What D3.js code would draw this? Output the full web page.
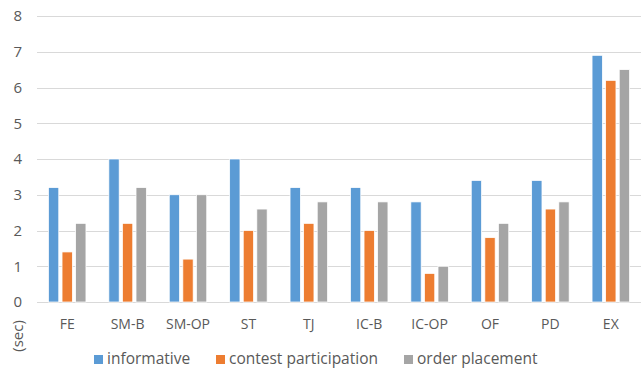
<!DOCTYPE html>
<html>
<head>
<meta charset="utf-8">
<script src="https://cdn.jsdelivr.net/npm/d3@7"></script>
<style>
  html, body { margin: 0; padding: 0; background: #fff; }
  svg { display: block; font-family: "Open Sans", "Noto Sans", sans-serif; }
</style>
</head>
<body>
<svg id="chart" width="641" height="372"></svg>
<script>
// Response time per page type, three task types
const categories = ["FE", "SM-B", "SM-OP", "ST", "TJ", "IC-B", "IC-OP", "OF", "PD", "EX"];
const seriesNames = ["informative", "contest participation", "order placement"];
const informative = [3.2, 4.0, 3.0, 4.0, 3.2, 3.2, 2.8, 3.4, 3.4, 6.9];
const contestParticipation = [1.4, 2.2, 1.2, 2.0, 2.2, 2.0, 0.8, 1.8, 2.6, 6.2];
const orderPlacement = [2.2, 3.2, 3.0, 2.6, 2.8, 2.8, 1.0, 2.2, 2.8, 6.5];
const yTicks = [0, 1, 2, 3, 4, 5, 6, 7, 8];
const colors = ["#5B9BD5", "#ED7D31", "#A5A5A5"];

const seriesValues = [informative, contestParticipation, orderPlacement];
const svg = d3.select("#chart");

const plot = { left: 37, right: 641, top: 16, bottom: 302 };
const groupWidth = 37.5;

const x = d3.scaleBand().domain(categories).range([plot.left, plot.right]).padding(0);
const xInner = d3.scaleBand().domain(seriesNames).range([0, groupWidth]).paddingInner(0.24);
const y = d3.scaleLinear().domain([0, 8]).range([plot.bottom, plot.top]);

// gridlines
svg.append("g")
  .selectAll("line")
  .data(yTicks)
  .join("line")
  .attr("x1", plot.left).attr("x2", plot.right)
  .attr("y1", d => Math.round(y(d)) + 0.5).attr("y2", d => Math.round(y(d)) + 0.5)
  .attr("stroke", "#D9D9D9").attr("stroke-width", 1);

// y axis labels
const yAxis = d3.axisLeft(y).tickValues(yTicks).tickSize(0).tickPadding(0);
const yg = svg.append("g").attr("transform", `translate(22,0)`).call(yAxis);
yg.select(".domain").remove();
yg.selectAll("text").attr("font-size", 15).attr("fill", "#595959")
  .attr("font-family", "\"Open Sans\", sans-serif");

// bars
const groups = svg.append("g")
  .selectAll("g")
  .data(categories)
  .join("g")
  .attr("transform", d => `translate(${x(d) + (x.bandwidth() - groupWidth) / 2},0)`);

groups.selectAll("rect")
  .data((c, i) => seriesNames.map((s, k) => ({ s, k, v: seriesValues[k][i] })))
  .join("rect")
  .attr("x", d => xInner(d.s))
  .attr("width", xInner.bandwidth())
  .attr("y", d => y(d.v))
  .attr("height", d => y(0) - y(d.v))
  .attr("fill", d => colors[d.k])
  .attr("stroke", "#fff").attr("stroke-width", 0.75);

// x axis labels
const xAxis = d3.axisBottom(x).tickSize(0).tickPadding(0);
const xg = svg.append("g").attr("transform", `translate(0,${plot.bottom + 17})`).call(xAxis);
xg.select(".domain").remove();
xg.selectAll("text").attr("font-size", 14).attr("fill", "#595959")
  .attr("font-family", "\"Open Sans\", sans-serif");

// y axis title
svg.append("text")
  .attr("transform", "translate(23,336) rotate(-90)")
  .attr("text-anchor", "middle")
  .attr("font-size", 15).attr("fill", "#595959")
  .text("(sec)");

// legend
const legendX = [94, 216, 404];
const legend = svg.append("g")
  .selectAll("g")
  .data(seriesNames)
  .join("g")
  .attr("transform", (d, i) => `translate(${legendX[i]},355)`);
legend.append("rect").attr("width", 9).attr("height", 9).attr("fill", (d, i) => colors[i]);
legend.append("text").attr("x", 13).attr("y", 9)
  .attr("font-size", 15.5).attr("fill", "#595959").text(d => d);
</script>
</body>
</html>
